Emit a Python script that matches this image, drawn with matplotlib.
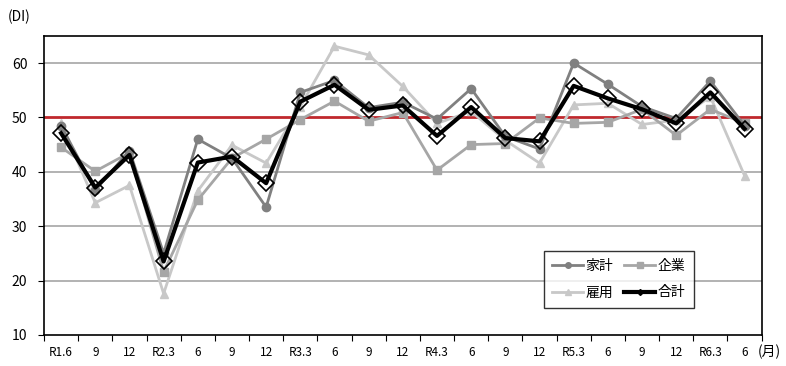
import matplotlib.pyplot as plt
from matplotlib.lines import Line2D

plt.rcParams['font.family'] = ['Noto Sans CJK JP', 'DejaVu Sans']

# 調査時期
labels = ['R1.6', '9', '12', 'R2.3', '6', '9', '12', 'R3.3', '6', '9', '12',
          'R4.3', '6', '9', '12', 'R5.3', '6', '9', '12', 'R6.3', '6']

# DI values
kakei = [48.5, 36.6, 43.9, 25.0, 46.0, 42.5, 33.5, 54.6, 56.8, 51.8, 52.8,
         49.7, 55.3, 46.5, 44.2, 60.0, 56.1, 52.0, 49.8, 56.7, 48.5]
kigyo = [44.5, 40.1, 43.5, 21.6, 34.8, 42.5, 46.0, 49.6, 53.0, 49.3, 50.9,
         40.3, 45.0, 45.2, 49.9, 48.9, 49.1, 51.5, 46.7, 51.5, 48.9]
koyo = [48.9, 34.3, 37.5, 17.6, 36.5, 44.9, 41.6, 52.0, 63.1, 61.5, 55.7,
        48.9, 51.1, 45.8, 41.6, 52.3, 52.6, 48.7, 49.5, 53.8, 39.3]
gokei = [47.1, 37.1, 43.1, 23.5, 41.7, 42.8, 37.9, 52.9, 56.0, 51.4, 52.2,
         46.6, 51.9, 46.2, 45.6, 55.8, 53.5, 51.5, 48.9, 54.6, 47.9]

x = list(range(len(labels)))

fig = plt.figure(figsize=(7.86, 3.66), dpi=100)
ax = fig.add_axes([0.056, 0.085, 0.913, 0.817])

for y in [20, 30, 40, 60]:
    ax.axhline(y, color='#a6a6a6', lw=1.2, zorder=1)
ax.axhline(50, color='#c0282d', lw=2, zorder=2)

ax.plot(x, koyo, color='#c8c8c8', lw=2, marker='^', ms=6, zorder=3)
ax.plot(x, kigyo, color='#a6a6a6', lw=2, marker='s', ms=6, zorder=3)
ax.plot(x, kakei, color='#808080', lw=2, marker='o', ms=6, zorder=3)
ax.plot(x, gokei, color='black', lw=3, zorder=4)
ax.plot(x, gokei, ls='none', marker='D', ms=8, mfc='none', mec='black', mew=1.2, zorder=5)

ax.set_xlim(-0.5, len(labels) - 0.5)
ax.set_ylim(10, 65)
ax.set_yticks([10, 20, 30, 40, 50, 60])
ax.tick_params(axis='y', direction='out', length=4, labelsize=10, pad=8)

ax.set_xticks([i + 0.5 for i in range(-1, len(labels))], minor=False)
ax.set_xticklabels([])
ax.set_xticks(x, minor=True)
ax.set_xticklabels(labels, minor=True)
ax.tick_params(axis='x', which='major', direction='out', length=4)
ax.tick_params(axis='x', which='minor', length=0, labelsize=8.5, pad=8)

for s in ax.spines.values():
    s.set_color('black')
    s.set_linewidth(1.2)

fig.text(0.010, 0.955, '(DI)', fontsize=10, va='center')
fig.text(0.964, 0.038, '(月)', fontsize=10, va='center', ha='left')

handles = [
    Line2D([], [], color='#808080', lw=2, marker='o', ms=4),
    Line2D([], [], color='#c8c8c8', lw=2, marker='^', ms=4),
    Line2D([], [], color='#a6a6a6', lw=2, marker='s', ms=4),
    Line2D([], [], color='black', lw=3, marker='D', ms=3),
]
leg = ax.legend(handles, ['家計', '雇用', '企業', '合計'], ncol=2,
                loc='upper left', bbox_to_anchor=(0.687, 0.305),
                frameon=True, fancybox=False, fontsize=10,
                handlelength=2.2, handletextpad=0.2, columnspacing=0.8,
                labelspacing=0.9, borderpad=0.6)
leg.get_frame().set_edgecolor('black')
leg.get_frame().set_linewidth(1.0)

fig.savefig('out.png', dpi=100)
